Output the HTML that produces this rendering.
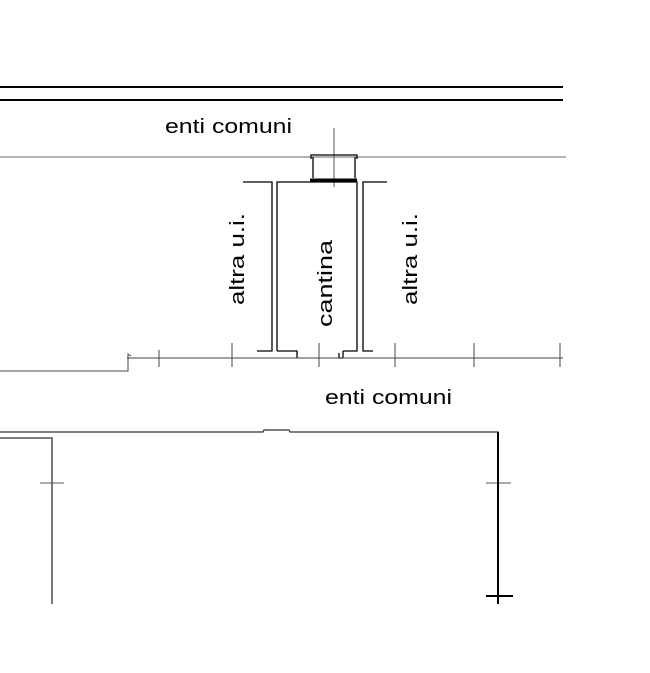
<!DOCTYPE html>
<html><head><style>html,body{margin:0;padding:0;background:#fff;}svg{display:block}</style></head><body>
<svg width="650" height="673" viewBox="0 0 650 673" xmlns="http://www.w3.org/2000/svg" font-family="Liberation Sans, sans-serif" font-size="20" fill="#000">
<g stroke="#000" fill="none" stroke-width="1.3">
<line x1="0" y1="87" x2="563" y2="87" stroke-width="2"/>
<line x1="0" y1="100" x2="563" y2="100" stroke-width="2"/>
<line x1="0" y1="157" x2="566" y2="157" stroke="#666" stroke-width="1"/>
<line x1="334" y1="128" x2="334" y2="187" stroke="#555" stroke-width="1"/>
<polyline points="311,159 311,155 357,155 357,159"/>
<line x1="313" y1="157" x2="313" y2="178"/>
<line x1="355" y1="157" x2="355" y2="178"/>
<line x1="310" y1="180" x2="357" y2="180" stroke-width="3"/>
<polyline points="243,182 272,182 272,351 257,351"/>
<polyline points="277,351 277,182 357,182 357,351 343,351"/>
<polyline points="387,182 363,182 363,351 373,351"/>
<polyline points="277,351 297,351 297,358"/>
<polyline points="343,351 343,358 339,358 339,353"/>
<line x1="127" y1="358" x2="563" y2="358" stroke="#444" stroke-width="1"/>
<polyline points="0,371 128,371 128,354 131,356" stroke="#444" stroke-width="1"/>
<g stroke="#444" stroke-width="1">
<line x1="159" y1="350" x2="159" y2="367"/><line x1="232" y1="343" x2="232" y2="367"/>
<line x1="319" y1="343" x2="319" y2="367"/><line x1="395" y1="343" x2="395" y2="367"/>
<line x1="474" y1="343" x2="474" y2="367"/><line x1="560" y1="343" x2="560" y2="367"/>
</g>
<polyline points="0,432 263,432 264,430 289,430 290,432 498,432 498,604" stroke="#333"/>
<polyline points="0,438 52,438 52,604" stroke="#333"/>
<line x1="40" y1="483" x2="64" y2="483" stroke="#555" stroke-width="1"/>
<line x1="486" y1="483" x2="511" y2="483" stroke="#555" stroke-width="1"/>
<line x1="486" y1="596" x2="513" y2="596" stroke-width="2"/>
<line x1="498" y1="432" x2="498" y2="604" stroke-width="2"/>
</g>
<text x="165" y="133" textLength="127" lengthAdjust="spacingAndGlyphs">enti comuni</text>
<text x="325" y="404" textLength="127" lengthAdjust="spacingAndGlyphs">enti comuni</text>
<text transform="translate(244,305) rotate(-90)" textLength="92" lengthAdjust="spacingAndGlyphs">altra u.i.</text>
<text transform="translate(332,327) rotate(-90)" textLength="87" lengthAdjust="spacingAndGlyphs">cantina</text>
<text transform="translate(417,305) rotate(-90)" textLength="92" lengthAdjust="spacingAndGlyphs">altra u.i.</text>
</svg>
</body></html>
